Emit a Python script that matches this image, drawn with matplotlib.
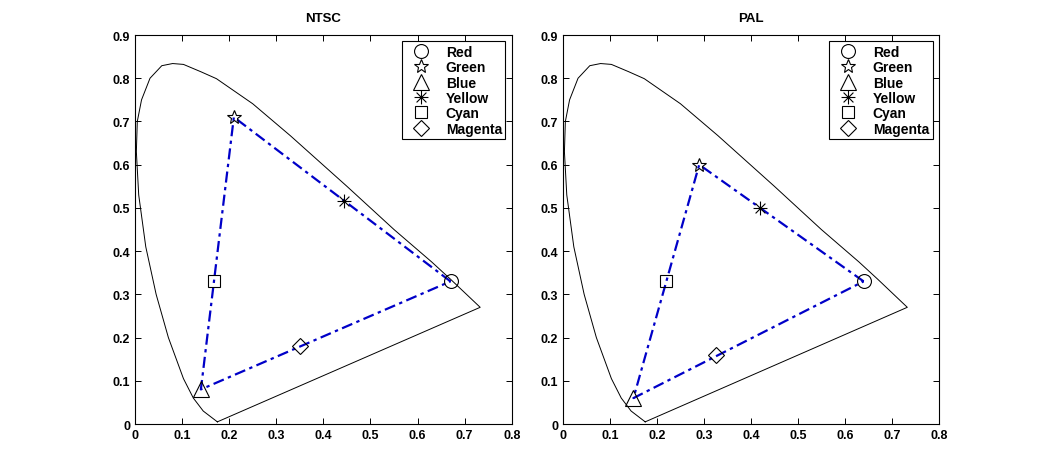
import matplotlib
matplotlib.use("Agg")
import matplotlib.pyplot as plt
from matplotlib.path import Path

# spectral locus (x, y chromaticity)
locus_x = [0.175, 0.145, 0.124, 0.103, 0.071, 0.045, 0.023, 0.008, 0.003, 0.005,
           0.014, 0.032, 0.057, 0.080, 0.103, 0.140, 0.173, 0.250, 0.330, 0.450,
           0.550, 0.630, 0.670, 0.733, 0.175]
locus_y = [0.005, 0.030, 0.060, 0.105, 0.200, 0.300, 0.410, 0.530, 0.630, 0.700,
           0.750, 0.800, 0.829, 0.834, 0.832, 0.815, 0.799, 0.741, 0.667, 0.550,
           0.450, 0.375, 0.335, 0.270, 0.005]

color_names = ["Red", "Green", "Blue", "Yellow", "Cyan", "Magenta"]

ntsc_x = [0.67, 0.21, 0.14, 0.443, 0.167, 0.35]
ntsc_y = [0.33, 0.71, 0.08, 0.517, 0.33, 0.18]

pal_x = [0.64, 0.29, 0.15, 0.42, 0.22, 0.325]
pal_y = [0.33, 0.60, 0.06, 0.50, 0.33, 0.16]

# matlab-like thin asterisk: + and x on top of each other
d = 0.7071
asterisk = Path([(0, -1), (0, 1), (-1, 0), (1, 0), (-d, -d), (d, d), (-d, d), (d, -d)],
                [Path.MOVETO, Path.LINETO] * 4)

color_markers = ["o", "*", "^", asterisk, "s", "D"]
marker_sizes = [10, 10, 11, 10, 9, 8]

plt.rcParams['font.family'] = ['Liberation Sans', 'DejaVu Sans']
plt.rcParams['font.weight'] = 'bold'

fig = plt.figure(figsize=(10.38, 4.77), dpi=100)
ax1 = fig.add_axes([0.130, 0.109, 0.363, 0.8155])
ax2 = fig.add_axes([0.5424, 0.109, 0.362, 0.8155])


def draw(ax, title, xs, ys):
    ax.plot(locus_x, locus_y, color="black", linewidth=0.7)
    # primaries triangle R -> G -> B -> R
    tri_x = [xs[0], xs[1], xs[2], xs[0]]
    tri_y = [ys[0], ys[1], ys[2], ys[0]]
    ax.plot(tri_x, tri_y, color="#0000c8", linewidth=1.6,
            dashes=(5, 2, 1.5, 2))
    for i in range(len(color_names)):
        ax.plot(xs[i], ys[i], linestyle="none", marker=color_markers[i],
                markersize=marker_sizes[i], markerfacecolor="none",
                markeredgecolor="black", markeredgewidth=0.8,
                label=color_names[i])
    ax.set_xlim(0, 0.8)
    ax.set_ylim(0, 0.9)
    ax.set_xticks([0, 0.1, 0.2, 0.3, 0.4, 0.5, 0.6, 0.7, 0.8])
    ax.set_yticks([0, 0.1, 0.2, 0.3, 0.4, 0.5, 0.6, 0.7, 0.8, 0.9])
    ax.set_xticklabels(["0", "0.1", "0.2", "0.3", "0.4", "0.5", "0.6", "0.7", "0.8"])
    ax.set_yticklabels(["0", "0.1", "0.2", "0.3", "0.4", "0.5", "0.6", "0.7", "0.8", "0.9"])
    ax.tick_params(direction="in", top=True, right=True, length=4, width=0.7,
                   labelsize=9)
    for s in ax.spines.values():
        s.set_linewidth(0.8)
    ax.set_title(title, fontsize=9.5, fontweight="bold", pad=10)
    leg = ax.legend(loc="upper right", fontsize=10, fancybox=False,
                    framealpha=1, edgecolor="black", borderpad=0.25,
                    labelspacing=0.1, handletextpad=0.7, handlelength=2.2,
                    borderaxespad=0.45)
    leg.get_frame().set_linewidth(0.8)


draw(ax1, "NTSC", ntsc_x, ntsc_y)
draw(ax2, "PAL", pal_x, pal_y)

fig.savefig("out.png", dpi=100)
